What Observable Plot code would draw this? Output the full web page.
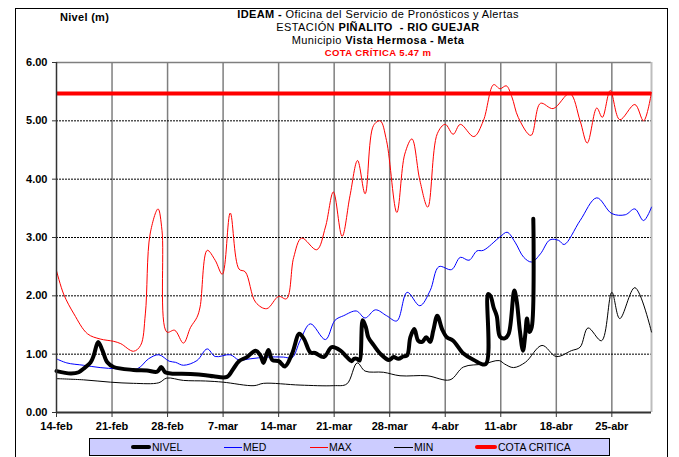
<!DOCTYPE html>
<html>
<head>
<meta charset="utf-8">
<script src="https://cdn.jsdelivr.net/npm/d3@7"></script>
<script src="https://cdn.jsdelivr.net/npm/@observablehq/plot@0.6"></script>
<style>
  html, body { margin: 0; padding: 0; background: #fff; }
  #wrap { position: relative; width: 679px; height: 457px; overflow: hidden;
          font-family: "Liberation Sans", Arial, sans-serif; color: #000; }
  #wrap svg { position: absolute; left: 0; top: 0; }
  .box { position: absolute; left: 15px; top: 8px; width: 653px; height: 470px;
         border: 1px solid #000; box-sizing: border-box; }
  .ylab { position: absolute; left: 60px; top: 11px; font-size: 11px; font-weight: bold; letter-spacing: 0.3px; }
  .title { position: absolute; left: 178px; width: 400px; text-align: center; font-size: 11px;
           letter-spacing: 0.4px; line-height: 13px; white-space: nowrap; }
  .title b { font-weight: bold; }
  .crit { color: #ff0000; font-weight: bold; font-size: 9.5px; letter-spacing: 0.4px; }
  .legend { position: absolute; left: 89px; top: 438px; width: 521px; height: 18px;
            background: #ccccff; border: 1px solid #000; box-sizing: border-box; }
  .item { position: absolute; top: 0; height: 16px; font-size: 10.5px; line-height: 16px; }
  .swatch { position: absolute; top: 8px; }
</style>
</head>
<body>
<div id="wrap">
  <div class="box"></div>
</div>
<script>
// Gauge station Piñalito – Río Guejar, daily levels 14-feb to 30-abr (2019)
const startDate = Date.UTC(2019, 1, 14);
const endDate = Date.UTC(2019, 3, 30);
const criticalLevel = 5.47;

// x-axis ticks: days after 14-feb and their labels
const tickDays = [0, 7, 14, 21, 28, 35, 42, 49, 56, 63, 70];
const tickLabels = ["14-feb", "21-feb", "28-feb", "7-mar", "14-mar", "21-mar", "28-mar", "4-abr", "11-abr", "18-abr", "25-abr"];
const yTicks = [0, 1, 2, 3, 4, 5, 6];

// NIVEL (observed level, m): day offset and value
const nivelDays = [0, 1.8, 2.8, 3.4, 4.3, 4.7, 5.25, 5.8, 6.4, 7.2, 9.7, 11.4, 12.7, 13.2, 13.7, 14.4, 16.9, 18.8, 19.8, 21.5,
  22.3, 23, 24, 25.1, 25.7, 26.1, 26.7, 27.2, 28, 28.8, 29.7, 30.6, 31.2, 32, 32.6, 33.7, 34.7, 35.8, 36.6, 37.2,
  37.5, 37.9, 38.2, 38.6, 39, 39.3, 40, 40.8, 41.9, 42.5, 43.1, 43.7, 44.2, 44.6, 45.1, 45.6, 46.1, 46.6, 47.1, 47.5,
  48, 48.6, 49.2, 50, 51.3, 52.6, 54.1, 54.4, 54.7, 55.1, 55.5, 55.9, 56.5, 57, 57.7, 58, 58.4, 58.8, 59.1, 59.3,
  59.6, 59.9, 60.1];
const nivelValues = [0.71, 0.67, 0.69, 0.75, 0.86, 0.98, 1.21, 1.06, 0.86, 0.78, 0.73, 0.72, 0.7, 0.78, 0.69, 0.67, 0.66, 0.64, 0.62, 0.61,
  0.75, 0.88, 0.95, 1.06, 0.98, 0.85, 1.07, 0.9, 0.88, 0.79, 1.01, 1.35, 1.26, 1.03, 1.02, 0.95, 1.12, 1.06, 0.95, 0.88,
  0.92, 0.92, 0.89, 1.58, 1.46, 1.29, 1.15, 1.01, 0.9, 0.95, 0.92, 0.96, 0.98, 1.29, 1.43, 1.23, 1.21, 1.29, 1.21, 1.41,
  1.66, 1.43, 1.29, 1.23, 1.01, 0.9, 0.83, 2.03, 2.0, 1.8, 1.65, 1.3, 1.27, 1.35, 2.09, 1.92, 1.41, 1.06, 1.35, 1.61,
  1.38, 1.46, 3.32];

// MED (historical mean)
const medDays = [0, 1.3, 3.4, 5.5, 7.6, 10.2, 11.6, 12.9, 14.2, 15, 16, 17.7, 19, 20, 21.9, 23, 24.4, 26.5, 28.6, 29.7,
  30.7, 32, 33.9, 35.1, 36.2, 37.8, 38.9, 40.2, 41.6, 42.9, 44.2, 45.8, 47.1, 48.2, 49.8, 50.9, 52, 53, 53.8, 55.9,
  56.8, 57.8, 58.9, 59.9, 61, 62.2, 63.3, 64, 66, 68.1, 70, 71.7, 72.9, 74, 75];
const medValues = [0.92, 0.85, 0.81, 0.77, 0.75, 0.75, 0.92, 0.99, 0.88, 0.86, 0.81, 0.89, 1.09, 0.96, 0.99, 0.9, 0.92, 0.95, 0.95, 0.94,
  1.23, 1.52, 1.25, 1.58, 1.66, 1.74, 1.62, 1.76, 1.66, 1.57, 2.06, 1.83, 2.09, 2.5, 2.45, 2.66, 2.61, 2.77, 2.78, 3.01,
  3.09, 2.92, 2.66, 2.58, 2.72, 2.96, 2.95, 2.88, 3.29, 3.68, 3.41, 3.39, 3.49, 3.29, 3.52];

// MAX (historical maximum)
const maxDays = [0, 0.9, 2.2, 3.9, 5.5, 7.2, 8.1, 9.7, 10.6, 11.2, 11.8, 12.8, 13.3, 13.9, 14.9, 16, 16.9, 17.7, 18.1, 19,
  20, 20.9, 21.9, 23, 23.8, 25.1, 26.5, 28, 29, 29.9, 30.9, 32.8, 33.9, 34.9, 36, 37, 37.95, 38.9, 39.96, 40.8,
  41.6, 42.9, 43.9, 44.8, 45.8, 46.8, 48, 49, 50, 50.9, 52.6, 53.8, 55.1, 55.9, 56.7, 57.4, 58.2, 59.8, 61, 62.6,
  64.7, 66, 66.9, 68.1, 68.8, 69.8, 71, 72.9, 74, 75];
const maxValues = [2.43, 2.03, 1.69, 1.35, 1.26, 1.22, 1.18, 1.05, 1.15, 1.69, 3.06, 3.49, 3.12, 1.38, 1.41, 1.19, 1.46, 1.63, 1.81, 2.78,
  2.61, 2.37, 3.42, 2.46, 2.41, 1.89, 1.78, 1.99, 1.95, 2.66, 2.99, 2.79, 3.18, 3.78, 3.02, 3.72, 4.32, 3.75, 4.92, 5.0,
  4.66, 3.43, 4.43, 4.69, 3.98, 3.52, 4.78, 4.94, 4.77, 4.94, 4.73, 5.0, 5.62, 5.55, 5.6, 5.41, 5.06, 4.75, 5.3, 5.21,
  5.47, 5.0, 4.62, 5.22, 5.06, 5.52, 5.02, 5.28, 5.0, 5.49];

// MIN (historical minimum)
const minDays = [0, 3.4, 6.8, 9.7, 12.9, 13.9, 16, 18.8, 21, 24.9, 26.1, 30.7, 34.9, 36.6, 37.9, 38.9, 41.2, 43.3, 46.7, 49.6,
  51.3, 53.8, 55.8, 56.5, 57.6, 59.1, 61.2, 63, 64.9, 66, 67, 68.7, 70, 71, 72.9, 75];
const minValues = [0.58, 0.56, 0.52, 0.5, 0.51, 0.59, 0.55, 0.54, 0.52, 0.46, 0.5, 0.47, 0.46, 0.49, 0.85, 0.71, 0.69, 0.63, 0.63, 0.56,
  0.78, 0.83, 0.89, 0.83, 0.77, 0.86, 1.15, 0.96, 1.06, 1.12, 1.45, 1.23, 2.06, 1.61, 2.14, 1.38];

const day = d => new Date(startDate + d * 864e5);
const series = (days, values) => days.map((d, i) => ({date: day(d), value: values[i]}));

const nivel = series(nivelDays, nivelValues);
const med = series(medDays, medValues);
const max = series(maxDays, maxValues);
const min = series(minDays, minValues);
const tickDates = tickDays.map(day);
const labelOf = new Map(tickDates.map((d, i) => [+d, tickLabels[i]]));

const chart = Plot.plot({
  width: 679,
  height: 457,
  marginLeft: 56,
  marginRight: 28,
  marginTop: 62,
  marginBottom: 45,
  style: {fontFamily: "'Liberation Sans', Arial, sans-serif", fontSize: "11px", fontWeight: "bold", background: "transparent", overflow: "visible"},
  x: {type: "utc", domain: [new Date(startDate), new Date(endDate)]},
  y: {domain: [0, 6]},
  marks: [
    Plot.ruleX(tickDates.slice(1), {stroke: "#7f7f7f", strokeWidth: 1.5}),
    Plot.ruleY([1, 2, 3, 4, 5], {stroke: "#000", strokeWidth: 1, strokeDasharray: "2,1"}),
    Plot.ruleY([6], {stroke: "#7f7f7f", strokeWidth: 1.5}),
    Plot.ruleX([new Date(endDate)], {stroke: "#bdbdbd", strokeWidth: 2}),
    Plot.line(min, {x: "date", y: "value", stroke: "#000", strokeWidth: 1, curve: "catmull-rom"}),
    Plot.line(med, {x: "date", y: "value", stroke: "#0000ff", strokeWidth: 1, curve: "catmull-rom"}),
    Plot.line(max, {x: "date", y: "value", stroke: "#ff0000", strokeWidth: 1, curve: "catmull-rom"}),
    Plot.ruleY([criticalLevel], {stroke: "#ff0000", strokeWidth: 4}),
    Plot.line(nivel, {x: "date", y: "value", stroke: "#000", strokeWidth: 4, curve: "catmull-rom", strokeLinejoin: "round"}),
    Plot.ruleX([new Date(startDate)], {stroke: "#333", strokeWidth: 1.5}),
    Plot.ruleY([0], {stroke: "#333", strokeWidth: 2}),
    Plot.axisX({ticks: tickDates, tickFormat: d => labelOf.get(+d), tickSize: 5, tickPadding: 5, label: null, stroke: "#333"}),
    Plot.axisY({ticks: yTicks, tickFormat: d3.format(".2f"), tickSize: 4, tickPadding: 5, label: null, stroke: "#333"})
  ]
});

const wrap = document.getElementById("wrap");
wrap.appendChild(chart);

// header texts
const header = [
  {top: 8, html: "<b>IDEAM -</b> Oficina del Servicio de Pronósticos y Alertas"},
  {top: 21, html: "ESTACIÓN <b>PIÑALITO&nbsp; - RIO GUEJAR</b>"},
  {top: 34, html: "Municipio <b>Vista Hermosa - Meta</b>"},
  {top: 46, html: "<span class='crit'>COTA CRÍTICA " + criticalLevel.toFixed(2) + " m</span>"}
];
const ylab = document.createElement("div");
ylab.className = "ylab";
ylab.textContent = "Nivel (m)";
wrap.appendChild(ylab);
for (const h of header) {
  const t = document.createElement("div");
  t.className = "title";
  t.style.top = h.top + "px";
  t.innerHTML = h.html;
  wrap.appendChild(t);
}

// legend
const legendItems = [
  {name: "NIVEL", color: "#000", width: 4, x0: 41, len: 20},
  {name: "MED", color: "#0000ff", width: 1, x0: 134, len: 18},
  {name: "MAX", color: "#ff0000", width: 1, x0: 220, len: 18},
  {name: "MIN", color: "#000", width: 1, x0: 304, len: 19},
  {name: "COTA CRITICA", color: "#ff0000", width: 4, x0: 385, len: 22}
];
const legend = document.createElement("div");
legend.className = "legend";
for (const it of legendItems) {
  const sw = document.createElement("div");
  sw.className = "swatch";
  sw.style.left = it.x0 + "px";
  sw.style.width = it.len + "px";
  sw.style.height = it.width + "px";
  sw.style.marginTop = (-Math.floor(it.width / 2)) + "px";
  sw.style.background = it.color;
  sw.style.borderRadius = it.width > 1 ? "2px" : "0";
  legend.appendChild(sw);
  const lb = document.createElement("div");
  lb.className = "item";
  lb.style.left = (it.x0 + it.len + 1) + "px";
  lb.textContent = it.name;
  legend.appendChild(lb);
}
wrap.appendChild(legend);
</script>
</body>
</html>
